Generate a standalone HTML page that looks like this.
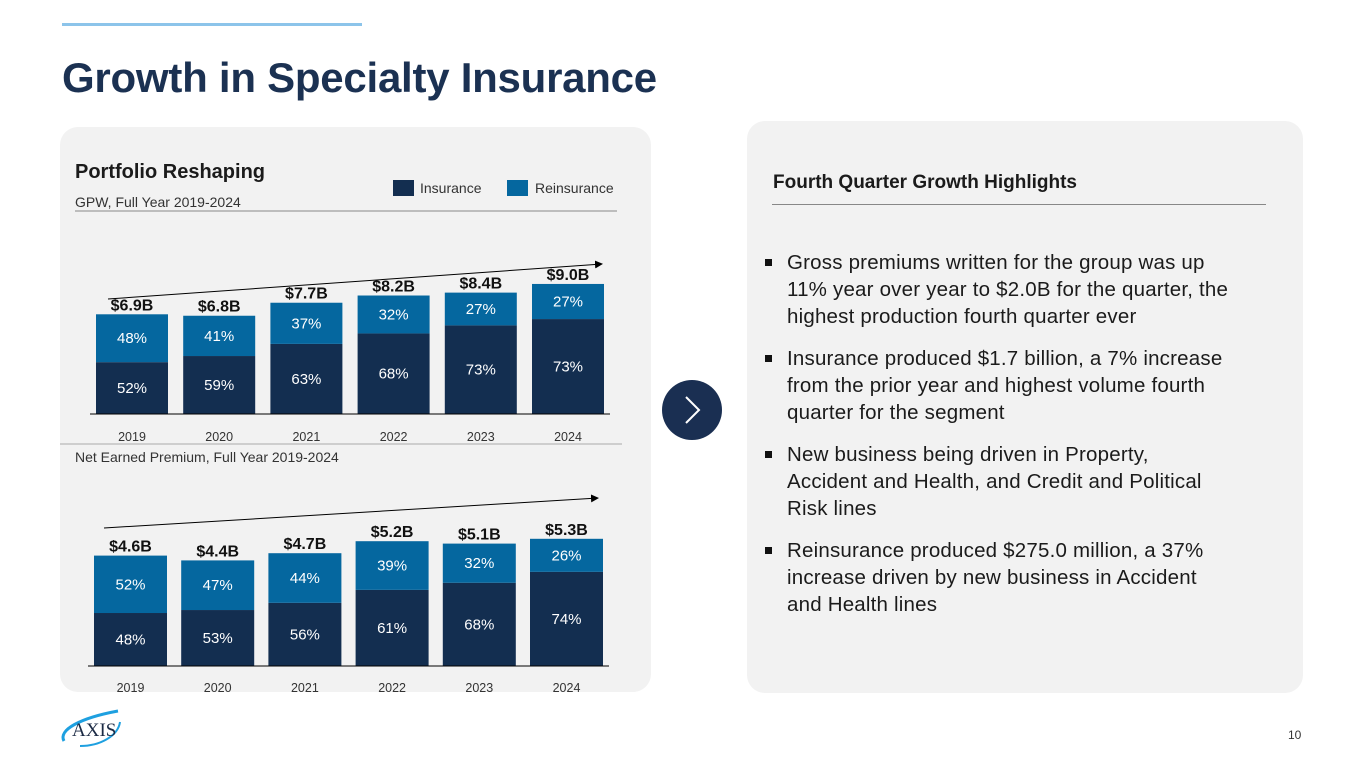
<!DOCTYPE html>
<html><head><meta charset="utf-8">
<style>
body{margin:0;width:1365px;height:768px;background:#fff;font-family:"Liberation Sans",sans-serif;position:relative;overflow:hidden}
.abs{position:absolute}
.panel{background:#f2f2f2;border-radius:18px}
ul{list-style:none;margin:0;padding:0}
li{position:relative;padding-left:22px;margin-bottom:15px}
li::before{content:"";position:absolute;left:0;top:10px;width:7px;height:7px;background:#111}
</style></head><body>
<div class="abs" style="left:62px;top:23px;width:300px;height:3px;background:#8cc4ea"></div>
<div class="abs" style="left:62px;top:54px;font-size:42px;font-weight:bold;color:#1b3152;letter-spacing:-0.25px">Growth in Specialty Insurance</div>
<div class="abs panel" style="left:60px;top:127px;width:591px;height:565px"></div>
<div class="abs panel" style="left:747px;top:121px;width:556px;height:572px"></div>
<div class="abs" style="left:773px;top:172px;font-size:19px;font-weight:bold;color:#1b1b1b">Fourth Quarter Growth Highlights</div>
<div class="abs" style="left:772px;top:204px;width:494px;height:1px;background:#888"></div>
<ul class="abs" style="left:765px;top:249px;width:466px;font-size:20.5px;line-height:27px;color:#1b1b1b;letter-spacing:0.2px">
<li>Gross premiums written for the group was up 11% year over year to $2.0B for the quarter, the highest production fourth quarter ever</li>
<li>Insurance produced $1.7 billion, a 7% increase from the prior year and highest volume fourth quarter for the segment</li>
<li>New business being driven in Property, Accident and Health, and Credit and Political Risk lines</li>
<li>Reinsurance produced $275.0 million, a 37% increase driven by new business in Accident and Health lines</li>
</ul>
<div class="abs" style="left:1288px;top:728px;font-size:12px;color:#333">10</div>
<svg class="abs" style="left:0;top:0" width="1365" height="768" id="svg" font-family="Liberation Sans, sans-serif">
<text x="75" y="178" font-size="20" font-weight="bold" fill="#1b1b1b">Portfolio Reshaping</text>
<text x="75" y="207" font-size="14" fill="#333">GPW, Full Year 2019-2024</text>
<line x1="75" y1="211" x2="617" y2="211" stroke="#888" stroke-width="1"/>
<g>
<rect x="393" y="180" width="21" height="16" fill="#132e50"/><text x="420" y="193" font-size="14" fill="#333">Insurance</text>
<rect x="507" y="180" width="21" height="16" fill="#05679f"/><text x="535" y="193" font-size="14" fill="#333">Reinsurance</text>
</g>
<line x1="60" y1="444" x2="622" y2="444" stroke="#aaa" stroke-width="1"/>
<text x="75" y="462" font-size="14" fill="#333">Net Earned Premium, Full Year 2019-2024</text>
<defs><marker id="ah" markerWidth="8" markerHeight="8" refX="7" refY="4" orient="auto"><path d="M0,0L8,4L0,8z" fill="#000"/></marker></defs>
<line x1="108" y1="299" x2="602" y2="264" stroke="#000" stroke-width="1" marker-end="url(#ah)"/>
<line x1="104" y1="528" x2="598" y2="498" stroke="#000" stroke-width="1" marker-end="url(#ah)"/>
<g id="c1"></g><g id="c2"></g>
<g>
<circle cx="692" cy="410" r="30" fill="#1a2f52"/>
<path d="M686,397 L699,410 L686,423" fill="none" stroke="#fff" stroke-width="2"/>
</g>
<g>
<path d="M64,741 C58,730 80,718 118,711" fill="none" stroke="#1ea0e0" stroke-width="3"/>
<path d="M80,746 C100,746 118,736 120,722" fill="none" stroke="#1ea0e0" stroke-width="2"/>
<text x="72" y="736" font-size="19" font-family="Liberation Serif, serif" fill="#1b2a44">AXIS</text>
</g>
</svg>
<script>
const years=["2019","2020","2021","2022","2023","2024"];
const gpwTotals=[6.9,6.8,7.7,8.2,8.4,9.0];
const gpwIns=[52,59,63,68,73,73];
const gpwRe=[48,41,37,32,27,27];
const nepTotals=[4.6,4.4,4.7,5.2,5.1,5.3];
const nepIns=[48,53,56,61,68,74];
const nepRe=[52,47,44,39,32,26];
const NS="http://www.w3.org/2000/svg";
function mk(t,a,p){const e=document.createElementNS(NS,t);for(const k in a)e.setAttribute(k,a[k]);p.appendChild(e);return e;}
function draw(gid,totals,ins,re,base,scale,x0,pitch,bw,yearY,prefix){
  const g=document.getElementById(gid);
  const xs=i=>x0+i*pitch;
  const ys=v=>base-v*scale;
  years.forEach((y,i)=>{
    const x=xs(i),top=ys(totals[i]),h=base-top;
    const hi=h*ins[i]/(ins[i]+re[i]);
    const r1=mk('rect',{x:x,y:base-hi,width:bw,height:hi,fill:'#132e50'},g);
    
    
    const r2=mk('rect',{x:x,y:top,width:bw,height:h-hi,fill:'#05679f'},g);
    
    
    const cx=x+bw/2;
    let t=mk('text',{x:cx,y:base-hi/2+5,'text-anchor':'middle','font-size':15,fill:'#fff'},g);t.textContent=ins[i]+'%';
    
    t=mk('text',{x:cx,y:top+(h-hi)/2+5,'text-anchor':'middle','font-size':15,fill:'#fff'},g);t.textContent=re[i]+'%';
    
    t=mk('text',{x:cx,y:top-4,'text-anchor':'middle','font-size':16,'font-weight':'bold',fill:'#111'},g);t.textContent='$'+totals[i].toFixed(1)+'B';
    
    t=mk('text',{x:cx,y:yearY,'text-anchor':'middle','font-size':12.5,fill:'#333'},g);t.textContent=y;
    
  });
  const ax=mk('line',{x1:x0-6,y1:base,x2:xs(5)+bw+6,y2:base,stroke:'#000','stroke-width':1},g);
  
}
draw('c1',gpwTotals,gpwIns,gpwRe,414,14.45,96,87.2,72,441,'gpw');
draw('c2',nepTotals,nepIns,nepRe,666,24,94,87.2,73,692,'nep');
</script>
</body></html>
